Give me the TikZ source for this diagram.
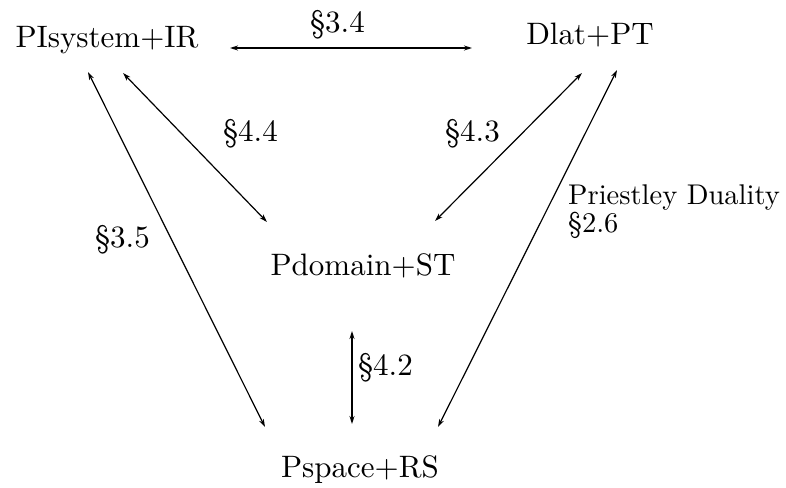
\documentclass[tikz,border=0pt]{standalone}
\usepackage{fontspec}
\setmainfont{lmroman10-regular}[Extension=.otf]
\usetikzlibrary{arrows.meta}
\begin{document}
\begin{tikzpicture}[x=1pt,y=-1pt,
  lbl/.style={font=\fontsize{31}{36}\selectfont, inner sep=0pt, anchor=base},
  sec/.style={font=\fontsize{31}{36}\selectfont, inner sep=0pt, anchor=base west},
  small/.style={font=\fontsize{28.5}{25}\selectfont, inner sep=0pt, anchor=base west, align=left},
  link/.style={line width=1.2pt, {Stealth[length=8pt,width=5pt]}-{Stealth[length=8pt,width=5pt]}}]
\useasboundingbox (0,0) rectangle (786,487);
\node[lbl] (pi) at (107,48) {PIsystem+IR};
\node[lbl] (dl) at (590,45) {Dlat+PT};
\node[lbl] (pd) at (363,275) {Pdomain+ST};
\node[lbl] (ps) at (360,477) {Pspace+RS};
% label nodes
\node[sec] (l34) at (310,33) {\S3.4};
\node[sec] (l44) at (223,141) {\S4.4};
\node[sec] (l43) at (445,141) {\S4.3};
\node[sec] (l35) at (95,247) {\S3.5};
\node[sec] (l42) at (358,375) {\S4.2};
\node[small] (l26) at (568,232) {Priestley Duality\\\S2.6};
% connector end points
\coordinate (h1) at (230,48);
\coordinate (h2) at (472,48);
\coordinate (a1) at (123,73);
\coordinate (a2) at (267,222);
\coordinate (b1) at (582,73);
\coordinate (b2) at (435,221);
\coordinate (c1) at (88,72);
\coordinate (c2) at (265,427);
\coordinate (d1) at (617,70);
\coordinate (d2) at (438,427);
\coordinate (v1) at (352,331);
\coordinate (v2) at (352,424);
\draw[link] (h1) -- (h2);
\draw[link] (a1) -- (a2);
\draw[link] (b1) -- (b2);
\draw[link] (c1) -- (c2);
\draw[link] (d1) -- (d2);
\draw[link] (v1) -- (v2);
\end{tikzpicture}
\end{document}
